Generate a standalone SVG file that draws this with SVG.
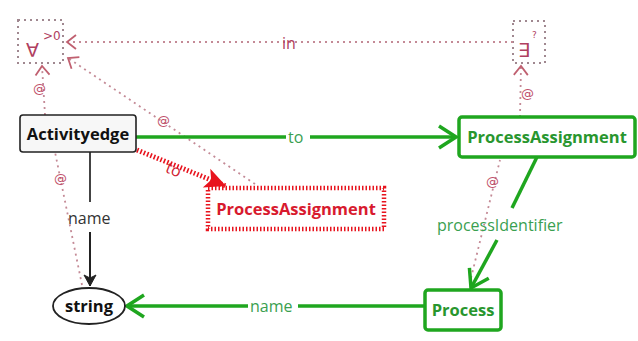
<svg xmlns="http://www.w3.org/2000/svg" width="638" height="341" viewBox="0 0 638 341">
  <style>
    .lbl { font-family: "Open Sans", "DejaVu Sans", sans-serif; font-size: 16px; }
    .node-t { font-family: "Open Sans", "DejaVu Sans", sans-serif; font-size: 16.5px; font-weight: bold; }
    .quant { fill: none; stroke: #a08890; stroke-width: 2; stroke-dasharray: 2 4; }
    .link { fill: none; stroke: #c48a96; stroke-width: 1.8; stroke-dasharray: 2 4; }
    .at { font-family: "DejaVu Sans", sans-serif; font-size: 13px; fill: #c0506a; }
    .green { stroke: #1fa61f; }
  </style>
  <defs>
    <marker id="gArrow" markerWidth="22" markerHeight="26" refX="19" refY="13" orient="auto" markerUnits="userSpaceOnUse">
      <path d="M2,2 L19,13 L2,24" fill="none" stroke="#1fa61f" stroke-width="3.5"/>
    </marker>
    <marker id="kArrow" markerWidth="14" markerHeight="14" refX="12" refY="7" orient="auto" markerUnits="userSpaceOnUse">
      <path d="M1,1 L12,7 L1,13 L4,7 Z" fill="#222" stroke="#222" stroke-width="1"/>
    </marker>
    <marker id="rArrow" markerWidth="24" markerHeight="24" refX="22" refY="12" orient="auto" markerUnits="userSpaceOnUse">
      <path d="M1,2 L22,12 L1,22 L6,12 Z" fill="#e8141e"/>
    </marker>
    <marker id="qArrow" markerWidth="14" markerHeight="16" refX="12" refY="8" orient="auto" markerUnits="userSpaceOnUse">
      <path d="M3,1 L12,8 L3,15" fill="none" stroke="#c06070" stroke-width="1.8"/>
    </marker>
  </defs>

  <rect width="638" height="341" fill="#ffffff"/>

  <!-- quantifier boxes -->
  <g id="forall">
    <rect x="18" y="20" width="45" height="43" fill="#f4f0f2" class="quant"/>
    <text x="26" y="57" font-family="DejaVu Sans, sans-serif" font-size="19" fill="#b04060">∀</text>
    <text x="43" y="40" font-family="DejaVu Sans, sans-serif" font-size="12" fill="#b04060">&gt;0</text>
  </g>
  <g id="exists">
    <rect x="513" y="21" width="32" height="42" fill="#f8f6f7" class="quant"/>
    <text x="518" y="57" font-family="DejaVu Sans, sans-serif" font-size="19" fill="#b04060">∃</text>
    <text x="532" y="38" font-family="DejaVu Sans, sans-serif" font-size="9" fill="#b04060">?</text>
  </g>

  <!-- connectors -->
  <g id="connectors">
    <!-- quantifier links -->
    <line x1="513" y1="42" x2="67" y2="42" class="link" marker-end="url(#qArrow)"/>
    <text x="282" y="49" class="lbl" fill="#b04060">in</text>

    <line x1="45" y1="115" x2="42" y2="66" class="link" marker-end="url(#qArrow)"/>
    <text x="33" y="93" class="at">@</text>

    <line x1="255" y1="184" x2="68" y2="58" class="link" marker-end="url(#qArrow)"/>
    <text x="157" y="125" class="at">@</text>

    <line x1="82" y1="285" x2="55" y2="152" class="link"/>
    <text x="54" y="183" class="at">@</text>

    <line x1="520" y1="117" x2="521" y2="66" class="link" marker-end="url(#qArrow)"/>
    <text x="521" y="98" class="at">@</text>

    <line x1="471" y1="278" x2="500" y2="160" class="link"/>
    <text x="486" y="186" class="at">@</text>

    <!-- Activityedge -to-> ProcessAssignment (create) -->
    <line x1="136" y1="137" x2="456" y2="137" class="green" stroke-width="3.5" marker-end="url(#gArrow)"/>
    <rect x="286" y="128" width="24" height="18" fill="#ffffff"/>
    <text x="288" y="143" class="lbl" fill="#3aa050">to</text>

    <!-- Activityedge -to-> ProcessAssignment (forbid) -->
    <line x1="137" y1="150" x2="226" y2="186" stroke="#e8141e" stroke-width="5" stroke-dasharray="1.6 2" marker-end="url(#rArrow)"/>
    <text x="166" y="176" class="lbl" fill="#d02030" transform="rotate(22 176 170)">to</text>

    <!-- Activityedge -name-> string -->
    <line x1="90" y1="152" x2="90" y2="202" stroke="#444" stroke-width="2"/>
    <text x="68" y="224" class="lbl" fill="#333">name</text>
    <line x1="90" y1="232" x2="90" y2="286" stroke="#222" stroke-width="2" marker-end="url(#kArrow)"/>

    <!-- ProcessAssignment -processIdentifier-> Process -->
    <line x1="537" y1="157" x2="512" y2="208" class="green" stroke-width="3.5"/>
    <text x="437" y="231" class="lbl" fill="#3aa050">processIdentifier</text>
    <line x1="497" y1="240" x2="471" y2="288" class="green" stroke-width="3.5" marker-end="url(#gArrow)"/>

    <!-- Process -name-> string -->
    <line x1="424" y1="306" x2="127" y2="306" class="green" stroke-width="3.5" marker-end="url(#gArrow)"/>
    <rect x="248" y="296" width="50" height="20" fill="#ffffff"/>
    <text x="250" y="312" class="lbl" fill="#3aa050">name</text>
  </g>

  <!-- nodes -->
  <g id="activityedge">
    <rect x="20" y="115" width="116" height="37" rx="3" fill="#f7f7f7" stroke="#222" stroke-width="1.6"/>
    <text x="78" y="140" class="node-t" fill="#111" text-anchor="middle">Activityedge</text>
  </g>
  <g id="processassignment-forbid">
    <rect x="208" y="188" width="176" height="41" fill="#ffffff" stroke="#e8141e" stroke-width="4.5" stroke-dasharray="1.5 2"/>
    <text x="296" y="215" class="node-t" fill="#d81a2e" text-anchor="middle">ProcessAssignment</text>
  </g>
  <g id="processassignment-create">
    <rect x="459" y="117" width="176" height="40" rx="3" fill="#ffffff" stroke="#1fa61f" stroke-width="3.5"/>
    <text x="547" y="143" class="node-t" fill="#28962e" text-anchor="middle">ProcessAssignment</text>
  </g>
  <g id="process">
    <rect x="425" y="290" width="76" height="40" rx="3" fill="#ffffff" stroke="#1fa61f" stroke-width="3.5"/>
    <text x="463" y="316" class="node-t" fill="#28962e" text-anchor="middle">Process</text>
  </g>
  <g id="string">
    <ellipse cx="89" cy="306" rx="36" ry="18" fill="#ffffff" stroke="#222" stroke-width="1.8"/>
    <text x="89" y="312" class="node-t" fill="#111" text-anchor="middle">string</text>
  </g>
</svg>
